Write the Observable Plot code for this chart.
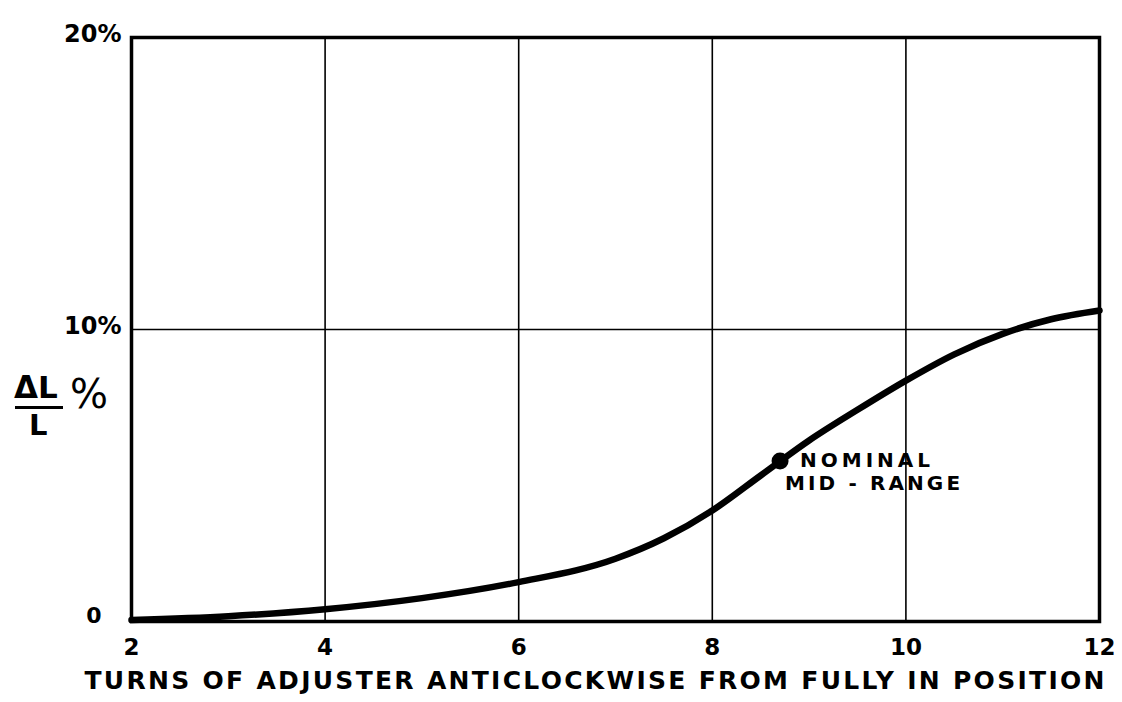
<!DOCTYPE html>
<html>
<head>
<meta charset="utf-8">
<script src="https://cdn.jsdelivr.net/npm/d3@7"></script>
<script src="https://cdn.jsdelivr.net/npm/@observablehq/plot@0.6"></script>
<style>
  html, body { margin: 0; padding: 0; background: #fff; }
  #chart { position: relative; width: 1122px; height: 702px; }
  .ylab { position: absolute; font-family: "DejaVu Sans", sans-serif; font-weight: bold; color: #000; }
</style>
</head>
<body>
<div id="chart"></div>
<script>
// Data
const turns = [2, 3, 4, 5, 6, 7, 7.5, 8, 8.5, 9, 9.5, 10, 10.5, 11, 11.5, 12];
const deltaLPct = [0.05, 0.18, 0.42, 0.8, 1.35, 2.15, 2.85, 3.8, 5.0, 6.2, 7.25, 8.25, 9.15, 9.85, 10.35, 10.65];
const xTicks = [2, 4, 6, 8, 10, 12];
const xGrid = [4, 6, 8, 10];
const yGrid = [10];
const yTicksPct = [10, 20];
const yTickZero = [0];
const nominalTurns = [8.7];
const nominalPct = [5.5];
const nominalLabel = ["NOMINAL", "MID - RANGE"];
const xTitle = "TURNS OF ADJUSTER ANTICLOCKWISE FROM FULLY IN POSITION";

const curve = turns.map((t, i) => ({turns: t, pct: deltaLPct[i]}));
const nominal = nominalTurns.map((t, i) => ({turns: t, pct: nominalPct[i]}));

const font = "DejaVu Sans, sans-serif";

const plot = Plot.plot({
  width: 1122,
  height: 702,
  marginLeft: 131,
  marginRight: 23,
  marginTop: 37,
  marginBottom: 81,
  style: {fontFamily: font, fontWeight: "bold", color: "#000", background: "#fff"},
  x: {domain: [2, 12]},
  y: {domain: [0, 20]},
  marks: [
    Plot.ruleX(xGrid, {stroke: "#000", strokeWidth: 1.6}),
    Plot.ruleY(yGrid, {stroke: "#000", strokeWidth: 1.6}),
    Plot.frame({stroke: "#000", strokeWidth: 3.5}),
    Plot.line(curve, {x: "turns", y: "pct", curve: "monotone-x", stroke: "#000", strokeWidth: 6.5, strokeLinecap: "round"}),
    Plot.dot(nominal, {x: "turns", y: "pct", r: 8.5, fill: "#000"}),
    Plot.text(nominal, {x: "turns", y: "pct", text: () => nominalLabel[0], textAnchor: "start", dx: 20, dy: 0, fontSize: 20, fontWeight: "bold", fill: "#000"}),
    Plot.text(nominal, {x: "turns", y: "pct", text: () => nominalLabel[1], textAnchor: "start", dx: 5, dy: 23, fontSize: 20, fontWeight: "bold", fill: "#000"}),
    Plot.axisX(xTicks, {tickSize: 0, tickPadding: 17, fontSize: 23, label: null}),
    Plot.axisY(yTicksPct, {tickSize: 0, tickPadding: 10, fontSize: 24, tickFormat: d => d + "%", label: null, dy: -3}),
    Plot.axisY(yTickZero, {tickSize: 0, tickPadding: 30, fontSize: 22, tickFormat: d => String(d), label: null, dy: -6}),
    Plot.text([xTitle], {frameAnchor: "bottom", text: d => d, dx: -21, dy: 67, fontSize: 25, fontWeight: "bold", fill: "#000"})
  ]
});

// stretch texts to the widths seen in the reference
const stretch = (txt, len) => d3.select(plot).selectAll("text")
  .filter(function () { return this.textContent === txt; })
  .attr("textLength", len).attr("lengthAdjust", "spacing");
stretch(xTitle, 1020);
stretch(nominalLabel[0], 130);
stretch(nominalLabel[1], 175);

document.getElementById("chart").appendChild(plot);

// ΔL / L % label at the left
const chart = document.getElementById("chart");
const mk = (txt, css) => { const d = document.createElement("div"); d.className = "ylab"; d.textContent = txt; Object.assign(d.style, css); chart.appendChild(d); return d; };
mk("ΔL", {left: "14px", top: "372px", fontSize: "31px", lineHeight: "31px"});
mk("", {left: "15px", top: "406px", width: "48px", height: "3px", background: "#000"});
mk("L", {left: "29px", top: "411px", fontSize: "29px", lineHeight: "29px"});
mk("%", {left: "70px", top: "372px", fontSize: "40px", lineHeight: "44px", fontWeight: "normal"});
</script>
</body>
</html>
